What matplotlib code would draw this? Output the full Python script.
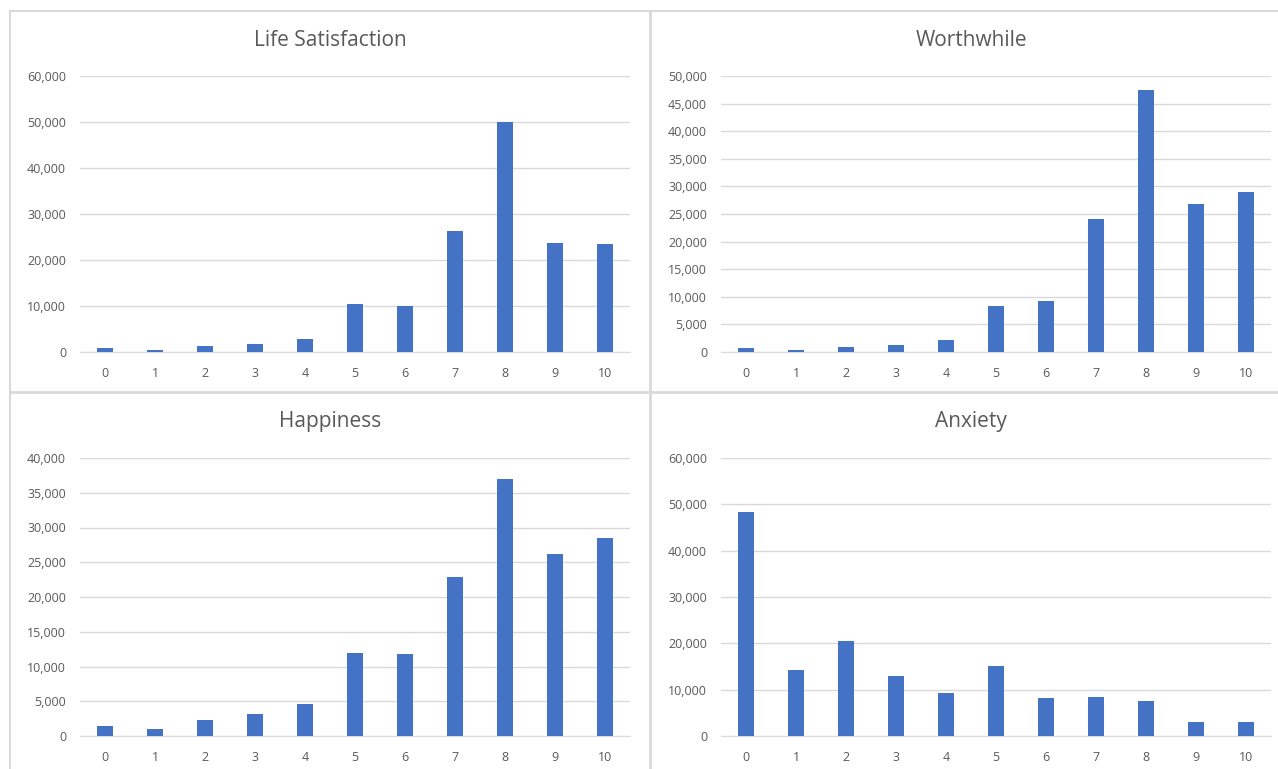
import matplotlib
matplotlib.use("Agg")
import matplotlib.pyplot as plt
from matplotlib.patches import Rectangle
from matplotlib.lines import Line2D
from matplotlib.ticker import FuncFormatter, MultipleLocator

plt.rcParams["font.family"] = ["Open Sans", "DejaVu Sans"]

BLUE = "#4472C4"
GRID = "#D9D9D9"
TEXT = "#595959"
BORDER = "#D9D9D9"

scores = list(range(11))

life_satisfaction = [900, 400, 1200, 1800, 2900, 10400, 10100, 26300, 50000, 23600, 23400]
worthwhile = [720, 300, 960, 1200, 2230, 8250, 9160, 24100, 47500, 26750, 28900]
happiness = [1390, 1060, 2360, 3130, 4660, 11970, 11780, 22930, 36950, 26150, 28500]
anxiety = [48300, 14200, 20550, 13050, 9370, 15070, 8220, 8510, 7640, 2960, 2960]

titles = ["Life Satisfaction", "Worthwhile", "Happiness", "Anxiety"]
series = [life_satisfaction, worthwhile, happiness, anxiety]
ymax = [60000, 50000, 40000, 60000]
ystep = [10000, 5000, 5000, 10000]

W, H = 1278, 769
fig = plt.figure(figsize=(W / 100, H / 100), dpi=100)

# axes boxes in pixels: (left, top-of-plot, bottom-of-plot)
boxes = [(80, 76, 352), (721, 76, 352), (80, 458, 736), (721, 458, 736)]
title_pos = [(330, 40), (971, 40), (330, 422), (971, 422)]

for vals, title, top, step, (lx, ty, by), (tx, tyy) in zip(
        series, titles, ymax, ystep, boxes, title_pos):
    ax = fig.add_axes([lx / W, 1 - by / H, 550 / W, (by - ty) / H])
    ax.bar(scores, vals, width=0.32, color=BLUE, zorder=3)
    ax.set_xlim(-0.5, 10.5)
    ax.set_ylim(0, top)
    ax.yaxis.set_major_locator(MultipleLocator(step))
    ax.yaxis.set_major_formatter(FuncFormatter(lambda v, p: f"{int(v):,}"))
    ax.set_xticks(scores)
    ax.grid(axis="y", color=GRID, lw=1, zorder=0)
    for s in ["top", "right", "left"]:
        ax.spines[s].set_visible(False)
    ax.spines["bottom"].set_color(GRID)
    ax.tick_params(axis="both", length=0, colors=TEXT, labelsize=9)
    ax.tick_params(axis="y", pad=10)
    ax.tick_params(axis="x", pad=11)
    fig.text(tx / W, 1 - tyy / H, title, ha="center", va="center",
             fontsize=15, color=TEXT)

# panel borders (bottom/right edges run off the picture)
fig.add_artist(Rectangle((10 / W, -0.1), 1.2, 1.1 - 11 / H, transform=fig.transFigure,
                         fill=False, edgecolor=BORDER, lw=1.5))
fig.add_artist(Line2D([650 / W, 650 / W], [0, 1 - 11 / H], transform=fig.transFigure,
                      color=BORDER, lw=2))
fig.add_artist(Line2D([10 / W, 1], [1 - 392 / H, 1 - 392 / H], transform=fig.transFigure,
                      color=BORDER, lw=2))

fig.savefig("out.png", dpi=100, facecolor="white")
